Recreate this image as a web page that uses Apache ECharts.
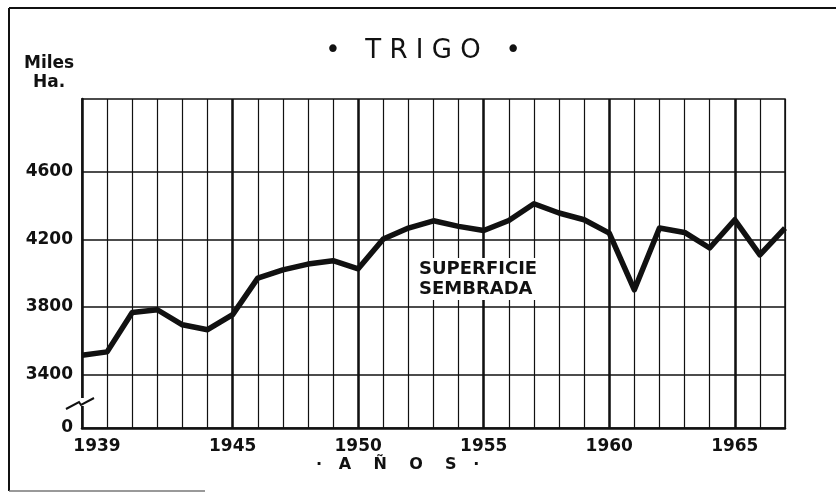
<!DOCTYPE html>
<html>
<head>
<meta charset="utf-8">
<title>Trigo</title>
<script src="https://cdn.jsdelivr.net/npm/echarts@6/dist/echarts.min.js"></script>
<style>
  html, body { margin: 0; padding: 0; background: #fff; }
  #chart { width: 836px; height: 493px; }
</style>
</head>
<body>
<div id="chart"></div>
<script>
// años y superficie sembrada (miles de Ha.)
const years = [1939, 1940, 1941, 1942, 1943, 1944, 1945, 1946, 1947, 1948,
    1949, 1950, 1951, 1952, 1953, 1954, 1955, 1956, 1957, 1958,
    1959, 1960, 1961, 1962, 1963, 1964, 1965, 1966, 1967];
const superficie = [3515, 3535, 3768, 3784, 3695, 3666, 3755, 3971, 4020, 4054,
    4074, 4026, 4202, 4267, 4310, 4277, 4253, 4312, 4411, 4356,
    4316, 4237, 3902, 4267, 4241, 4149, 4316, 4109, 4267];

// marcas de los ejes
const xLabelYears = [1939, 1945, 1950, 1955, 1960, 1965];
const xMajorYears = [1945, 1950, 1955, 1960, 1965];
const yLabelValues = [3400, 3800, 4200, 4600];
const yBase = 3085; // posición del "0" tras el corte del eje

const FONT = 'DejaVu Sans';
const INK = '#111';

const chart = echarts.init(document.getElementById('chart'));

chart.setOption({
    animation: false,
    backgroundColor: '#fff',
    title: {
        text: '•   T R I G O   •',
        left: 418,
        textAlign: 'center',
        top: 33,
        textStyle: { fontFamily: FONT, fontSize: 26, fontWeight: 'normal', color: INK }
    },
    grid: {
        left: 82, right: 51, top: 99, bottom: 65,
        show: true, borderColor: INK, borderWidth: 1.5
    },
    xAxis: {
        type: 'value',
        min: years[0],
        max: years[years.length - 1],
        interval: 1,
        axisLine: { show: true, onZero: false, lineStyle: { color: INK, width: 2.5 } },
        axisTick: { show: false },
        splitLine: { show: true, lineStyle: { color: INK, width: 1.2 } },
        axisLabel: {
            margin: 10,
            fontFamily: FONT, fontWeight: 'bold', fontSize: 17, color: INK,
            formatter: v => {
                if (v === years[0]) return '{first|' + v + '}';
                return xLabelYears.includes(v) ? String(v) : '';
            },
            rich: {
                first: { fontFamily: FONT, fontWeight: 'bold', fontSize: 17, color: INK, padding: [0, 0, 0, 30] }
            }
        }
    },
    yAxis: {
        type: 'value',
        min: yBase,
        max: 5030,
        axisLine: { show: true, lineStyle: { color: INK, width: 2.5 } },
        axisTick: { show: false },
        splitLine: { show: false },
        axisLabel: {
            customValues: [yBase].concat(yLabelValues),
            margin: 9,
            fontFamily: FONT, fontWeight: 'bold', fontSize: 17, color: INK,
            formatter: v => (v === yBase ? '0' : String(v))
        }
    },
    series: [{
        type: 'line',
        data: years.map((y, i) => [y, superficie[i]]),
        showSymbol: false,
        lineStyle: { color: INK, width: 5.5, join: 'round' },
        z: 5,
        markLine: {
            silent: true,
            symbol: 'none',
            label: { show: false },
            lineStyle: { color: INK, type: 'solid', width: 1.5 },
            data: yLabelValues.map(v => ({ yAxis: v }))
                .concat(xMajorYears.map(v => ({ xAxis: v, lineStyle: { width: 2.5 } })))
        }
    }],
    graphic: [
        // marco de la lámina
        { type: 'line', shape: { x1: 9, y1: 8, x2: 836, y2: 8 }, style: { stroke: INK, lineWidth: 2 } },
        { type: 'line', shape: { x1: 9, y1: 8, x2: 9, y2: 491 }, style: { stroke: INK, lineWidth: 2 } },
        { type: 'line', shape: { x1: 9, y1: 491, x2: 205, y2: 491 }, style: { stroke: '#777', lineWidth: 1.5 } },
        // unidades
        { type: 'text', left: 24, top: 55, style: { text: 'Miles', fontFamily: FONT, fontWeight: 'bold', fontSize: 17, fill: INK } },
        { type: 'text', left: 33, top: 74, style: { text: 'Ha.', fontFamily: FONT, fontWeight: 'bold', fontSize: 17, fill: INK } },
        // corte del eje
        { type: 'rect', shape: { x: 79, y: 398, width: 7, height: 8 }, style: { fill: '#fff' }, z: 100 },
        { type: 'polyline', shape: { points: [[66, 409], [79, 402], [81, 405], [94, 398]] },
          style: { stroke: INK, lineWidth: 2, fill: null }, z: 101 },
        // anotación
        { type: 'text', left: 417, top: 258, z: 100,
          style: { text: 'SUPERFICIE\nSEMBRADA', fontFamily: FONT, fontWeight: 'bold', fontSize: 18, lineHeight: 20,
                   fill: INK, backgroundColor: '#fff', padding: [1, 2, 1, 2] } },
        // título del eje x
        { type: 'text', left: 316, top: 457, style: { text: '·   A    Ñ    O    S   ·', fontFamily: FONT, fontWeight: 'bold', fontSize: 16, fill: INK } }
    ]
});

window.addEventListener('resize', () => chart.resize());
</script>
</body>
</html>
